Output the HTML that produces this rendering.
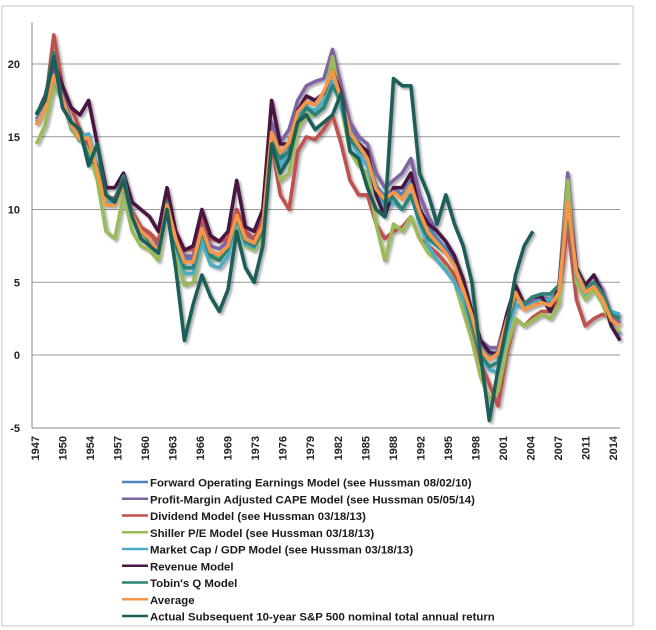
<!DOCTYPE html>
<html><head><meta charset="utf-8"><style>
html,body{margin:0;padding:0;background:#fff;}
svg{display:block;font-family:"Liberation Sans",sans-serif;}
</style></head><body>
<svg id="chart" width="656" height="630" xmlns="http://www.w3.org/2000/svg">
<defs><filter id="sh" x="-5%" y="-5%" width="110%" height="110%"><feGaussianBlur in="SourceAlpha" stdDeviation="1.2"/><feOffset dx="2" dy="2" result="b"/><feComponentTransfer><feFuncA type="linear" slope="0.35"/></feComponentTransfer><feMerge><feMergeNode/><feMergeNode in="SourceGraphic"/></feMerge></filter></defs>
<rect x="2" y="6" width="631" height="620" fill="#fff" stroke="#c8c8c8"/>
<g id="grid"></g><g id="series" filter="url(#sh)"></g><g id="axes"></g><g id="legend"></g>
</svg>
<script>
const years=[];for(let y=1947;y<=2014;y++)years.push(y);
const yTicks=[20,15,10,5,0,-5];
const xTickLabels=["1947","1950","1954","1957","1960","1963","1966","1969","1973","1976","1979","1982","1985","1988","1992","1995","1998","2001","2004","2007","2011","2014"];
const forward=[16.0,17.0,19.5,17.8,15.6,14.7,14.5,12.8,10.6,10.4,11.8,9.8,8.7,8.2,7.4,10.3,8.2,6.6,6.6,8.6,7.0,6.9,7.2,9.5,8.1,7.8,9.0,15.6,13.8,14.5,16.5,17.3,17.4,18.0,19.6,17.8,15.6,14.6,13.8,11.6,10.9,11.4,11.0,12.0,10.1,8.8,8.0,7.3,6.4,4.8,2.8,0.6,-0.1,0.3,2.5,4.5,3.3,3.7,3.9,3.6,4.7,11.0,5.8,4.4,4.9,4.0,2.2,1.4];
const profitMargin=[16.2,17.3,19.6,18.0,16.0,15.0,14.8,12.8,10.6,10.6,12.0,9.9,8.8,8.3,7.5,10.6,8.3,6.8,6.8,9.0,7.5,7.3,7.8,10.0,8.4,8.0,9.3,16.0,14.6,15.5,17.5,18.5,18.8,19.0,21.0,18.5,16.0,15.0,14.5,12.5,11.5,12.0,12.5,13.5,11.0,9.5,8.5,7.8,6.8,5.0,3.0,1.0,0.5,0.5,2.8,4.6,3.5,3.8,4.0,3.8,4.8,12.5,6.0,4.8,5.5,4.5,2.8,2.2];
const dividend=[15.8,17.2,22.0,18.5,17.0,15.5,14.5,13.0,10.8,10.8,12.0,9.8,8.8,8.4,7.8,10.8,8.5,7.2,7.3,9.5,8.0,7.8,8.0,10.0,8.5,8.0,9.2,14.5,11.0,10.0,14.0,15.0,14.8,15.5,16.5,14.5,12.0,11.0,11.0,9.0,8.0,8.5,8.8,9.5,8.0,7.5,7.0,6.3,5.5,3.5,1.5,-0.5,-2.0,-3.5,0.0,2.5,2.0,2.6,3.0,3.0,3.8,9.0,3.8,2.0,2.5,2.8,2.5,2.8];
const shiller=[14.5,15.8,18.5,17.5,15.5,14.8,14.0,12.0,8.5,8.0,11.0,8.5,7.5,7.2,6.5,10.0,7.0,4.8,5.0,7.8,6.5,6.8,7.0,9.0,7.5,7.2,8.2,14.8,12.0,12.5,15.5,16.5,16.5,17.5,20.5,17.0,14.0,13.0,12.5,9.0,6.5,9.0,8.5,9.5,8.0,7.0,6.5,6.0,5.0,3.0,1.0,-1.5,-3.0,-2.5,0.5,2.5,2.0,2.4,2.8,2.5,3.5,12.0,5.0,3.8,4.5,3.5,2.0,1.6];
const marketCap=[16.0,17.0,19.0,17.5,15.6,15.0,15.2,12.8,10.6,10.5,11.5,9.5,8.4,8.0,7.0,10.0,7.5,5.6,5.6,7.8,6.2,6.0,6.8,9.3,7.6,7.4,8.6,15.0,13.0,14.0,16.2,17.0,16.8,17.5,18.8,17.0,14.8,13.8,13.0,11.0,10.0,10.5,10.0,11.0,9.0,7.5,6.5,5.8,5.0,3.8,2.0,0.0,-1.0,-1.2,1.5,3.5,3.2,3.5,3.8,3.8,4.5,10.0,5.5,4.2,4.8,3.8,3.0,2.8];
const revenue=[16.5,17.8,20.2,18.5,17.0,16.5,17.5,14.5,11.5,11.5,12.5,10.5,10.0,9.5,8.5,11.5,8.5,7.2,7.5,10.0,8.2,7.8,8.5,12.0,8.8,8.5,10.0,17.5,14.5,14.5,16.8,17.8,17.5,18.0,19.5,18.0,15.0,14.5,14.0,11.0,9.5,11.5,11.5,12.5,10.0,9.0,8.5,7.8,6.8,5.2,3.0,1.0,0.2,0.0,2.8,4.8,3.5,4.0,4.0,3.0,4.8,10.5,6.0,4.8,5.5,4.2,2.0,1.0];
const tobinQ=[16.6,17.6,20.8,17.2,16.0,15.3,13.5,13.0,11.0,10.6,12.3,9.5,8.5,7.8,7.0,10.5,7.6,6.0,6.0,8.5,6.8,6.5,7.3,9.5,7.8,7.5,8.5,15.0,13.5,14.0,16.0,17.0,16.5,17.0,18.5,17.5,14.8,14.2,13.5,11.5,10.5,10.8,10.0,11.0,9.2,8.0,7.5,7.0,6.2,4.5,2.2,0.0,-0.8,-0.5,2.0,4.0,3.5,4.0,4.2,4.2,4.8,10.0,5.8,4.5,5.0,4.2,2.8,2.5];
const average=[15.8,16.9,19.2,17.6,15.8,14.9,14.9,12.6,10.3,10.3,11.7,9.6,8.5,8.0,7.1,10.3,8.0,6.4,6.4,8.7,7.1,6.9,7.5,9.6,8.0,7.7,8.9,15.3,13.9,14.6,16.7,17.4,17.2,18.1,19.5,17.6,15.3,14.4,13.5,11.4,10.7,11.2,10.7,11.7,9.8,8.4,7.7,7.0,6.1,4.5,2.7,0.4,-0.3,0.1,2.4,4.3,3.1,3.4,3.6,3.4,4.3,10.5,5.7,4.3,4.7,3.8,2.4,2.0];
const actual=[16.5,17.5,20.5,17.0,16.0,15.5,13.0,14.5,11.0,10.5,12.0,9.5,8.0,7.5,7.0,10.0,6.0,1.0,3.5,5.5,4.0,3.0,4.5,8.5,6.0,5.0,7.5,14.5,12.5,13.5,16.0,16.5,15.5,16.0,16.5,18.0,14.0,13.5,11.5,10.0,9.5,19.0,18.5,18.5,12.5,11.0,9.0,11.0,9.0,7.5,5.0,0.0,-4.5,-1.0,2.0,5.5,7.5,8.5];
const seriesNames=["Forward Operating Earnings Model (see Hussman 08/02/10)","Profit-Margin Adjusted CAPE Model (see Hussman 05/05/14)","Dividend Model (see Hussman 03/18/13)","Shiller P/E Model (see Hussman 03/18/13)","Market Cap / GDP Model (see Hussman 03/18/13)","Revenue Model","Tobin's Q Model","Average","Actual Subsequent 10-year S&P 500 nominal total annual return"];
const seriesData=[forward,profitMargin,dividend,shiller,marketCap,revenue,tobinQ,average,actual];
const colors=["#4f81bd","#8064a2","#c0504d","#9bbb59","#4bacc6","#4a1742","#2e8275","#f79646","#1f5f58"];
const NS="http://www.w3.org/2000/svg";
const X0=32,X1=620,Y0=428,Y1=22;
function xs(yr){return X0+(yr-1947)/(2014.5-1947)*(X1-X0);}
function ys(v){return 355-v*14.55;}
function mk(t,a,p){const e=document.createElementNS(NS,t);for(const k in a)e.setAttribute(k,a[k]);p.appendChild(e);return e;}
const grid=document.getElementById('grid'),axes=document.getElementById('axes'),ser=document.getElementById('series'),leg=document.getElementById('legend');
yTicks.forEach(v=>{
  if(v>-5){const l=mk('line',{x1:X0,x2:X1,y1:ys(v),y2:ys(v),stroke:'#9a9a9a','stroke-width':1},grid);
  
  }
  const t=mk('text',{x:20,y:ys(v)+4,'text-anchor':'end','font-size':11,'font-weight':'bold',fill:'#222'},axes);
  t.textContent=v;
  
  
});
const ya=mk('line',{x1:X0,x2:X0,y1:Y1,y2:Y0,stroke:'#888'},axes);


const xa=mk('line',{x1:X0,x2:X1,y1:Y0,y2:Y0,stroke:'#888'},axes);


xTickLabels.forEach((lab,i)=>{
  const x=35+i*(578/(xTickLabels.length-1))+4;
  const t=mk('text',{x:x,y:436,'text-anchor':'end','font-size':11,'font-weight':'bold',fill:'#222',transform:'rotate(-90 '+x+' 436)'},axes);
  t.textContent=lab;
  
  
});
seriesData.forEach((d,i)=>{
  const pts=d.map((v,j)=>xs(years[j]+0.5).toFixed(1)+','+ys(v).toFixed(1)).join(' ');
  const p=mk('polyline',{points:pts,fill:'none',stroke:colors[i],'stroke-width':3.6,'stroke-linejoin':'round'},ser);
  
  
});
seriesNames.forEach((n,i)=>{
  const y=482+i*16.75;
  const g=mk('g',{},leg);
  
  
  mk('line',{x1:122,x2:148,y1:y,y2:y,stroke:colors[i],'stroke-width':2.5},g);
  const t=mk('text',{x:150,y:y+4.5,'font-size':11.4,'font-weight':'bold',fill:'#1a1a1a'},g);
  t.textContent=n;
});
</script>
</body></html>
